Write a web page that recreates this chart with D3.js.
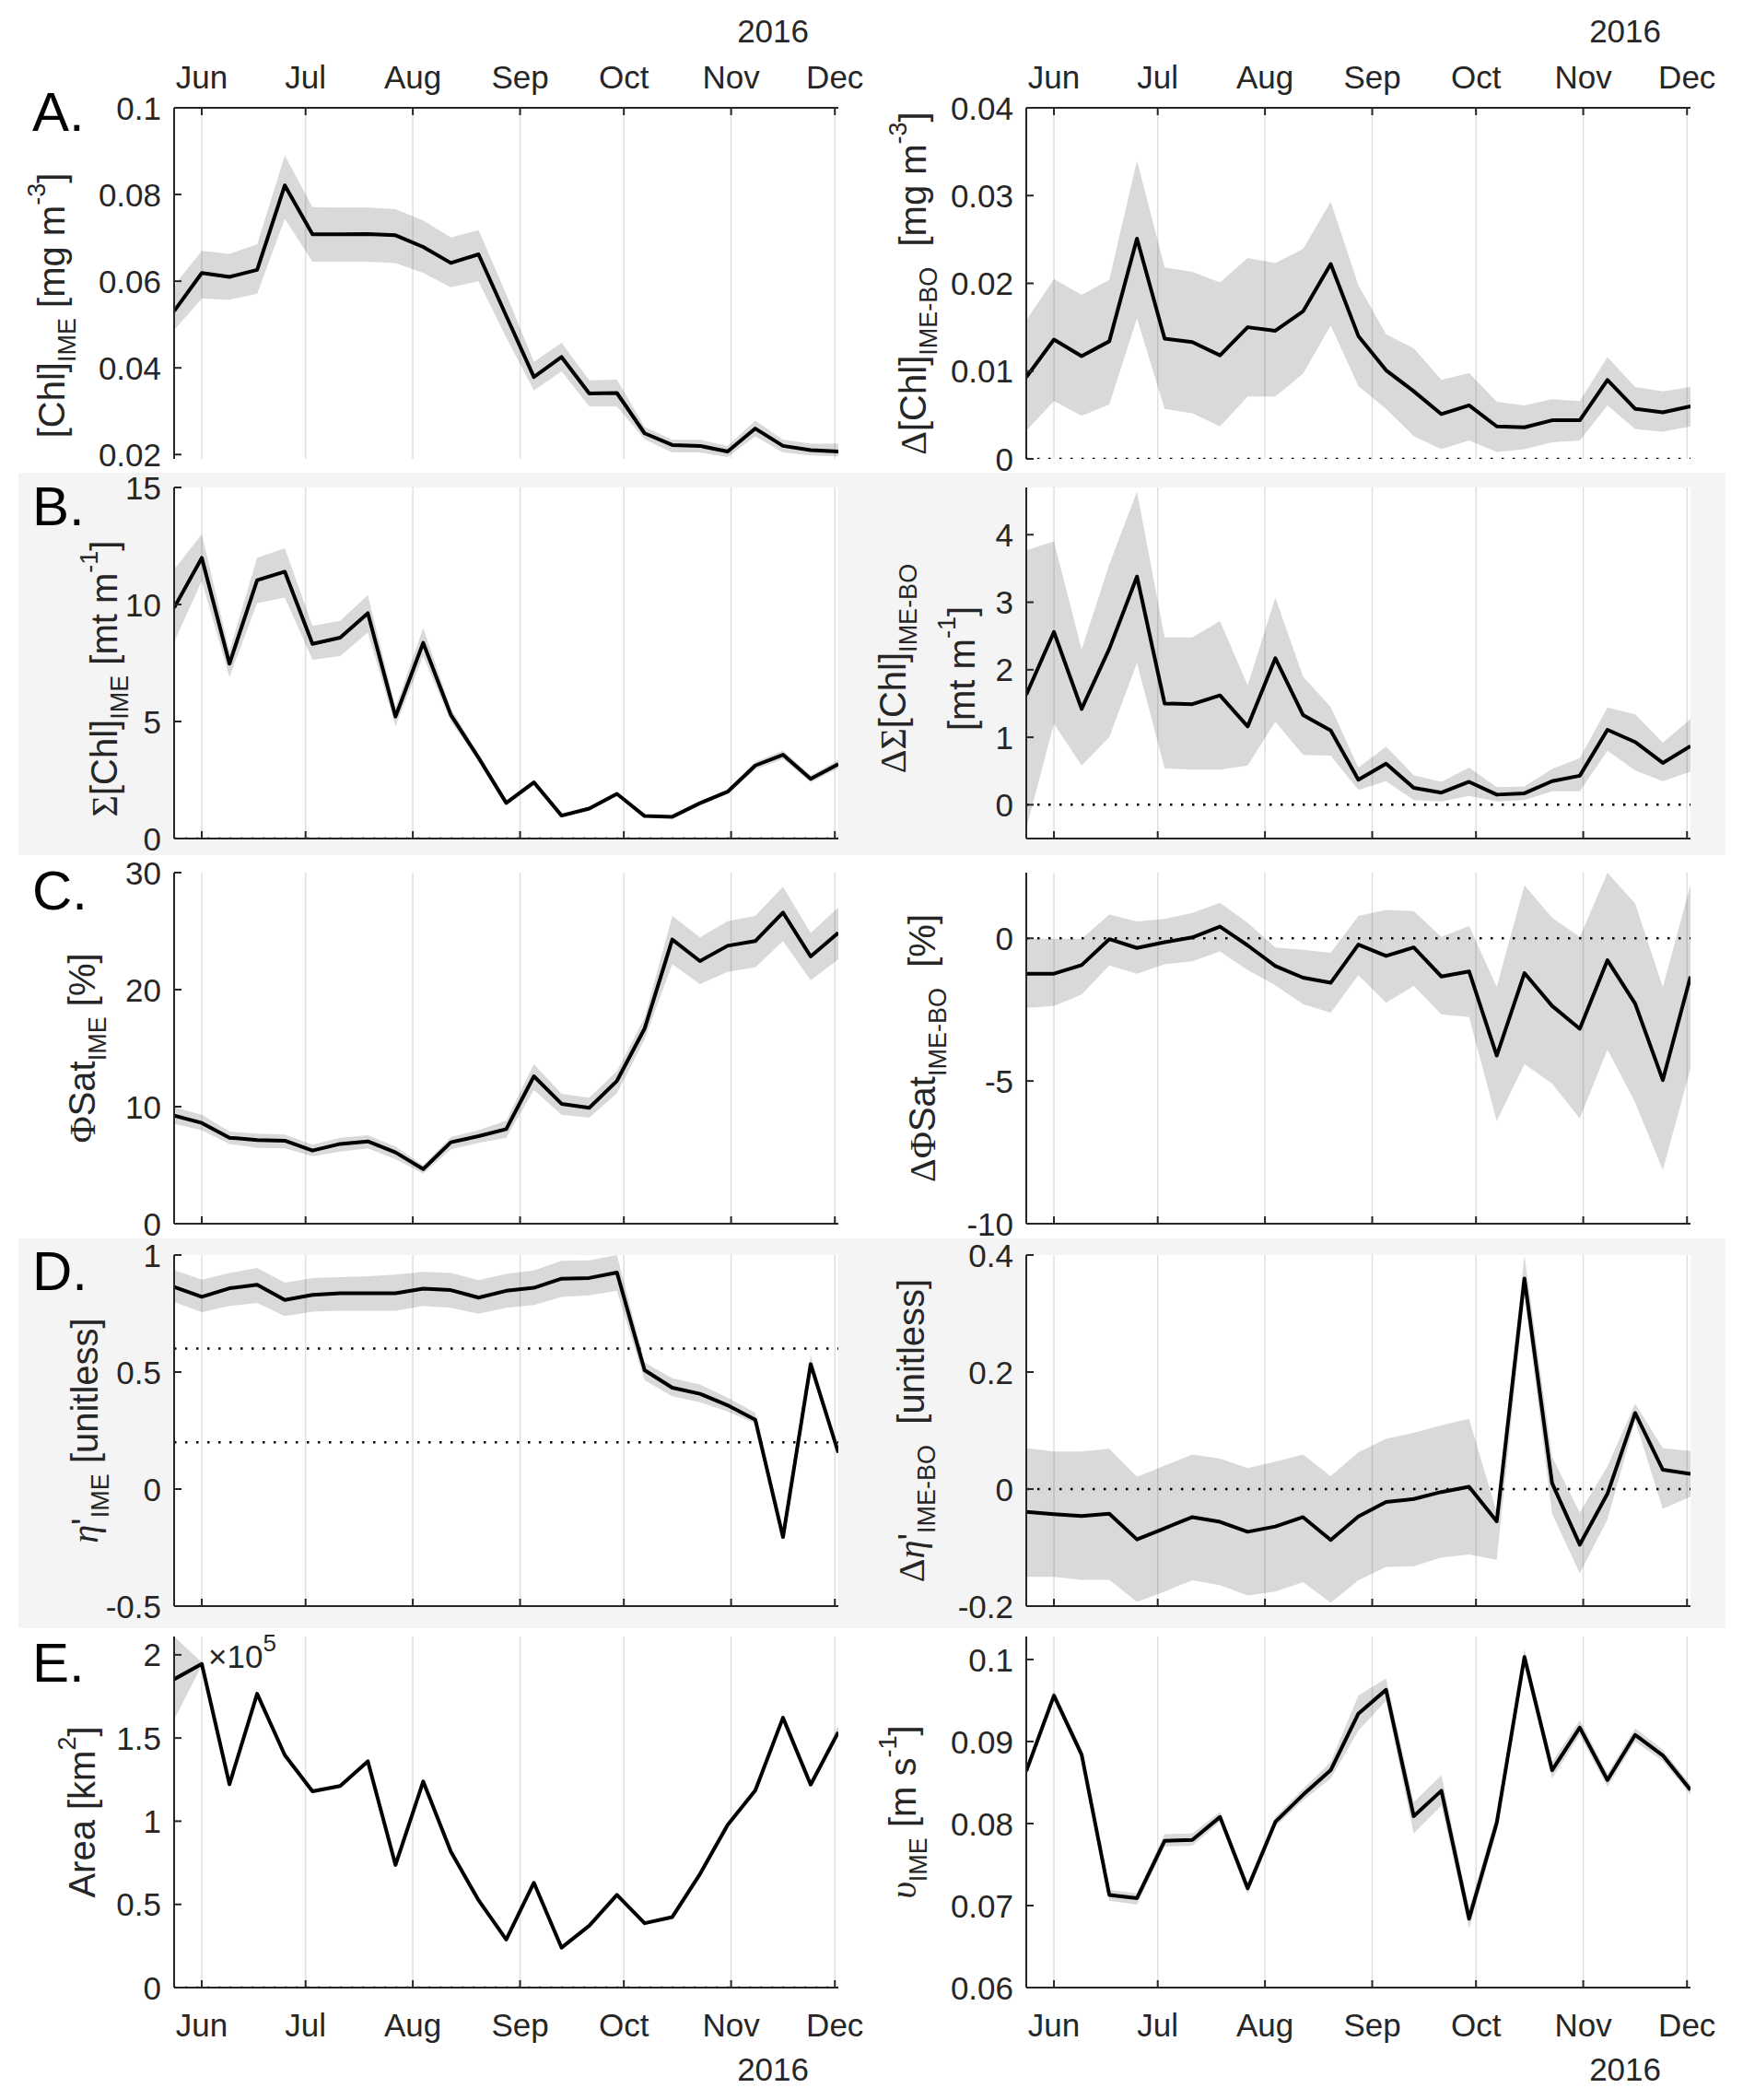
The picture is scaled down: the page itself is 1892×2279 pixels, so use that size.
<!DOCTYPE html>
<html>
<head>
<meta charset="utf-8">
<script src="https://cdnjs.cloudflare.com/ajax/libs/d3/7.8.5/d3.min.js"></script>
<style>
  body { margin: 0; background: #fff; }
  text { white-space: pre; }
</style>
</head>
<body>
<div id="chart"></div>
<script>
// 8-day composites, 2016
const dates = ["2016-05-24","2016-06-01","2016-06-09","2016-06-17","2016-06-25","2016-07-03","2016-07-11",
  "2016-07-19","2016-07-27","2016-08-04","2016-08-12","2016-08-20","2016-08-28","2016-09-05","2016-09-13",
  "2016-09-21","2016-09-29","2016-10-07","2016-10-15","2016-10-23","2016-10-31","2016-11-08","2016-11-16",
  "2016-11-24","2016-12-02"];
const monthTicks = ["2016-06-01","2016-07-01","2016-08-01","2016-09-01","2016-10-01","2016-11-01","2016-12-01"];
const yearLabel = "2016";

// A. [Chl]
const chlMean = [0.0531,0.0619,0.0610,0.0626,0.0821,0.0708,0.0708,0.0709,0.0706,0.0679,0.0642,0.0662,0.0520,0.0379,0.0425,0.0341,0.0342,0.0249,0.0222,0.0220,0.0207,0.0260,0.0220,0.0210,0.0207];
const chlLo   = [0.0487,0.0560,0.0557,0.0571,0.0744,0.0645,0.0645,0.0645,0.0642,0.0619,0.0586,0.0600,0.0470,0.0348,0.0392,0.0311,0.0311,0.0235,0.0205,0.0205,0.0194,0.0242,0.0205,0.0198,0.0196];
const chlHi   = [0.0590,0.0670,0.0663,0.0685,0.0890,0.0771,0.0770,0.0770,0.0766,0.0740,0.0701,0.0718,0.0570,0.0414,0.0458,0.0371,0.0373,0.0264,0.0234,0.0234,0.0220,0.0278,0.0234,0.0225,0.0225];
const dChlMean = [0.0093,0.0136,0.0117,0.0134,0.0251,0.0137,0.0133,0.0118,0.0150,0.0146,0.0168,0.0222,0.0140,0.0101,0.0077,0.0051,0.0061,0.0037,0.0036,0.0044,0.0044,0.0090,0.0057,0.0053,0.0060];
const dChlLo   = [0.0032,0.0066,0.0049,0.0062,0.0160,0.0057,0.0052,0.0037,0.0071,0.0071,0.0097,0.0152,0.0083,0.0057,0.0026,0.0011,0.0021,0.0008,0.0011,0.0019,0.0021,0.0061,0.0034,0.0031,0.0037];
const dChlHi   = [0.0158,0.0205,0.0187,0.0204,0.0340,0.0218,0.0213,0.0201,0.0229,0.0223,0.0239,0.0293,0.0198,0.0142,0.0126,0.0090,0.0098,0.0065,0.0061,0.0068,0.0066,0.0116,0.0082,0.0077,0.0082];

// B. integrated [Chl]
const sumMean = [9.86,11.99,7.47,11.04,11.40,8.32,8.58,9.63,5.21,8.36,5.28,3.45,1.52,2.40,0.98,1.28,1.91,0.96,0.93,1.51,2.00,3.12,3.58,2.55,3.18];
const sumLo   = [8.40,11.00,6.90,10.06,10.30,7.64,7.80,8.80,4.80,7.80,5.00,3.30,1.42,2.28,0.90,1.20,1.82,0.90,0.87,1.43,1.90,2.95,3.40,2.40,3.00];
const sumHi   = [11.50,13.00,8.00,12.00,12.40,9.08,9.30,10.40,5.60,9.00,5.55,3.60,1.62,2.52,1.06,1.36,2.00,1.02,0.99,1.59,2.10,3.28,3.76,2.70,3.36];
const dSumMean = [1.63,2.56,1.42,2.31,3.38,1.50,1.49,1.62,1.16,2.17,1.33,1.10,0.37,0.61,0.25,0.18,0.34,0.15,0.17,0.35,0.43,1.11,0.93,0.62,0.87];
const dSumLo   = [-0.35,1.20,0.58,1.00,2.10,0.54,0.52,0.52,0.58,1.23,0.74,0.73,0.22,0.35,0.07,0.05,0.13,0.05,0.07,0.20,0.20,0.80,0.51,0.35,0.49];
const dSumHi   = [3.77,3.90,2.30,3.56,4.64,2.48,2.48,2.72,1.77,3.07,1.90,1.45,0.55,0.86,0.44,0.34,0.55,0.26,0.27,0.53,0.69,1.44,1.34,0.92,1.27];

// C. saturation
const satMean = [9.24,8.61,7.35,7.14,7.09,6.25,6.82,7.03,6.09,4.67,6.96,7.48,8.08,12.60,10.24,9.90,12.20,16.67,24.28,22.44,23.75,24.15,26.59,22.83,24.86];
const satLo   = [8.53,8.00,6.82,6.48,6.43,5.77,6.17,6.43,5.51,4.28,6.35,6.90,7.35,11.42,9.32,9.06,11.15,15.75,22.18,20.47,21.52,21.90,24.15,20.81,22.57];
const satHi   = [9.97,9.32,7.87,7.69,7.61,6.75,7.35,7.56,6.59,4.99,7.40,8.00,8.79,13.65,11.10,10.76,13.04,17.59,26.30,24.46,25.85,26.30,28.80,24.85,27.03];
const dSatMean = [-1.24,-1.24,-0.94,-0.03,-0.34,-0.14,0.03,0.41,-0.25,-0.97,-1.38,-1.56,-0.22,-0.62,-0.32,-1.34,-1.16,-4.11,-1.22,-2.37,-3.17,-0.77,-2.29,-4.97,-1.34];
const dSatLo   = [-2.44,-2.37,-1.97,-0.95,-1.24,-0.91,-0.81,-0.46,-1.11,-1.65,-2.31,-2.61,-1.29,-2.26,-1.67,-2.66,-2.76,-6.40,-4.41,-5.09,-6.31,-3.90,-5.75,-8.12,-4.57];
const dSatHi   = [-0.02,-0.02,-0.02,0.83,0.59,0.68,0.89,1.24,0.54,-0.32,-0.40,-0.51,0.78,0.99,0.95,0.05,0.43,-1.70,1.86,0.72,0.05,2.29,1.22,-1.72,1.88];

// D. eta'
const etaMean = [0.864,0.821,0.858,0.873,0.808,0.830,0.837,0.837,0.837,0.856,0.850,0.818,0.847,0.860,0.899,0.902,0.925,0.508,0.433,0.407,0.358,0.296,-0.205,0.534,0.156];
const etaLo   = [0.799,0.756,0.782,0.795,0.739,0.758,0.762,0.762,0.762,0.782,0.775,0.749,0.775,0.786,0.821,0.828,0.847,0.465,0.397,0.371,0.332,0.280,-0.212,0.515,0.150];
const etaHi   = [0.936,0.895,0.923,0.945,0.882,0.902,0.906,0.909,0.916,0.928,0.923,0.893,0.919,0.934,0.975,0.977,1.000,0.541,0.473,0.447,0.391,0.326,-0.195,0.573,0.163];
const dEtaMean = [-0.039,-0.043,-0.046,-0.042,-0.086,-0.067,-0.048,-0.056,-0.073,-0.064,-0.048,-0.087,-0.047,-0.022,-0.017,-0.005,0.004,-0.055,0.360,0.010,-0.095,-0.008,0.130,0.033,0.026];
const dEtaLo   = [-0.150,-0.150,-0.155,-0.155,-0.193,-0.175,-0.156,-0.164,-0.182,-0.175,-0.159,-0.194,-0.156,-0.133,-0.132,-0.117,-0.112,-0.121,0.331,-0.042,-0.144,-0.052,0.117,-0.034,-0.013];
const dEtaHi   = [0.070,0.064,0.064,0.069,0.021,0.040,0.059,0.052,0.036,0.047,0.059,0.022,0.063,0.086,0.096,0.109,0.120,-0.040,0.399,0.055,-0.040,0.039,0.146,0.070,0.065];

// E. area (x10^5 km2) and speed
const areaMean = [1.853,1.945,1.222,1.766,1.397,1.180,1.211,1.360,0.737,1.239,0.817,0.525,0.289,0.630,0.240,0.372,0.557,0.387,0.424,0.682,0.977,1.185,1.622,1.220,1.535];
const areaLo   = [1.610,1.935,1.212,1.756,1.387,1.170,1.200,1.350,0.727,1.229,0.807,0.515,0.279,0.620,0.228,0.362,0.547,0.375,0.412,0.670,0.962,1.175,1.610,1.210,1.515];
const areaHi   = [2.110,1.955,1.232,1.776,1.407,1.190,1.222,1.370,0.747,1.249,0.827,0.535,0.299,0.640,0.250,0.382,0.567,0.397,0.434,0.692,0.990,1.195,1.640,1.230,1.575];
const velMean = [0.0864,0.0956,0.0884,0.0713,0.0709,0.0779,0.0780,0.0808,0.0721,0.0802,0.0835,0.0865,0.0934,0.0963,0.0809,0.0840,0.0684,0.0801,0.1003,0.0865,0.0917,0.0853,0.0908,0.0883,0.0841];
const velLo   = [0.0858,0.0950,0.0878,0.0706,0.0701,0.0772,0.0773,0.0802,0.0714,0.0796,0.0828,0.0855,0.0913,0.0950,0.0788,0.0822,0.0672,0.0790,0.0993,0.0855,0.0908,0.0845,0.0900,0.0876,0.0835];
const velHi   = [0.0870,0.0962,0.0890,0.0719,0.0715,0.0787,0.0788,0.0814,0.0728,0.0808,0.0842,0.0875,0.0956,0.0977,0.0826,0.0859,0.0696,0.0812,0.1013,0.0875,0.0926,0.0861,0.0916,0.0890,0.0847];

// tick values per panel
const chlTicks = [0.02,0.04,0.06,0.08,0.1];
const dChlTicks = [0,0.01,0.02,0.03,0.04];
const sumTicks = [0,5,10,15];
const dSumTicks = [0,1,2,3,4];
const satTicks = [0,10,20,30];
const dSatTicks = [-10,-5,0];
const etaTicks = [-0.5,0,0.5,1];
const dEtaTicks = [-0.2,0,0.2,0.4];
const areaTicks = [0,0.5,1,1.5,2];
const velTicks = [0.06,0.07,0.08,0.09,0.1];
const etaRefs = [0.6, 0.2];

const W = 1892, H = 2279;
const SANS = "'Liberation Sans', Arial, Helvetica, sans-serif";
const SERIF = "'Liberation Serif', 'Times New Roman', serif";
const INK = "#262626";
const colX = [[189, 910], [1114, 1835]];
const rowTop = [117, 529, 947, 1362, 1776];
const panelH = 381;
const letters = ["A.", "B.", "C.", "D.", "E."];
const letterBase = [142, 570, 987, 1400, 1825];

const parse = d3.timeParse("%Y-%m-%d");
const days = dates.map(parse);
const months = monthTicks.map(parse);
const fmt = d => String(+d.toFixed(6));

// label segments: [text, kind]  n=normal, g=greek, gi=greek italic, sub, sup
const panels = [
  {row:0, col:0, m:chlMean, lo:chlLo, hi:chlHi, dom:[0.019,0.1], ticks:chlTicks, refs:[], lx:70, ldy:24,
   label:[["[Chl]","n"],["IME","sub"],[" [mg m","n"],["-3","sup"],["]","n"]]},
  {row:0, col:1, m:dChlMean, lo:dChlLo, hi:dChlHi, dom:[0,0.04], ticks:dChlTicks, refs:[0], lx:1005, ldy:0,
   label:[["Δ","g"],["[Chl]","n"],["IME-BO","sub"],["  [mg m","n"],["-3","sup"],["]","n"]]},
  {row:1, col:0, m:sumMean, lo:sumLo, hi:sumHi, dom:[0,15], ticks:sumTicks, refs:[0], lx:127, ldy:17,
   label:[["Σ","g"],["[Chl]","n"],["IME","sub"],[" [mt m","n"],["-1","sup"],["]","n"]]},
  {row:1, col:1, m:dSumMean, lo:dSumLo, hi:dSumHi, dom:[-0.5,4.7], ticks:dSumTicks, refs:[0], lx:983, ldy:6,
   label:[["ΔΣ","g"],["[Chl]","n"],["IME-BO","sub"]],
   label2:[["[mt m","n"],["-1","sup"],["]","n"]], lx2:1058},
  {row:2, col:0, m:satMean, lo:satLo, hi:satHi, dom:[0,30], ticks:satTicks, refs:[], lx:103, ldy:0,
   label:[["Φ","g"],["Sat","n"],["IME","sub"],[" [%]","n"]]},
  {row:2, col:1, m:dSatMean, lo:dSatLo, hi:dSatHi, dom:[-10,2.3], ticks:dSatTicks, refs:[0], lx:1015, ldy:0,
   label:[["ΔΦ","g"],["Sat","n"],["IME-BO","sub"],["  [%]","n"]]},
  {row:3, col:0, m:etaMean, lo:etaLo, hi:etaHi, dom:[-0.5,1], ticks:etaTicks, refs:etaRefs, lx:106, ldy:0,
   label:[["η","gi"],["'","n"],["IME","sub"],[" [unitless]","n"]]},
  {row:3, col:1, m:dEtaMean, lo:dEtaLo, hi:dEtaHi, dom:[-0.2,0.4], ticks:dEtaTicks, refs:[0], lx:1003, ldy:0,
   label:[["Δ","g"],["η","gi"],["'","n"],["IME-BO","sub"],["  [unitless]","n"]]},
  {row:4, col:0, m:areaMean, lo:areaLo, hi:areaHi, dom:[0,2.11], ticks:areaTicks, refs:[0], lx:103, ldy:0,
   label:[["Area [km","n"],["2","sup"],["]","n"]]},
  {row:4, col:1, m:velMean, lo:velLo, hi:velHi, dom:[0.06,0.1028], ticks:velTicks, refs:[], lx:994, ldy:0,
   label:[["υ","gi"],["IME","sub"],[" [m s","n"],["-1","sup"],["]","n"]]}
];

const svg = d3.select("#chart").append("svg")
  .attr("width", W).attr("height", H)
  .attr("font-family", SANS);
svg.append("rect").attr("width", W).attr("height", H).attr("fill", "#fff");

// light grey bands behind rows B and D
[[513, 928], [1344, 1767]].forEach(b => {
  svg.append("rect").attr("x", 20).attr("y", b[0]).attr("width", 1853).attr("height", b[1] - b[0])
    .attr("fill", "#f4f4f4");
});

function richLabel(g, segs, x, y) {
  const t = g.append("text")
    .attr("transform", "translate(" + x + "," + y + ") rotate(-90)")
    .attr("text-anchor", "middle")
    .attr("font-size", 40)
    .attr("fill", INK);
  let shift = 0;
  segs.forEach(s => {
    const ts = t.append("tspan").text(s[0]);
    let target = 0;
    if (s[1] === "sub") { target = 12; ts.attr("font-size", 27); }
    if (s[1] === "sup") { target = -21; ts.attr("font-size", 27); }
    if (s[1] === "g") ts.attr("font-family", SERIF);
    if (s[1] === "gi") ts.attr("font-family", SERIF).attr("font-style", "italic");
    ts.attr("dy", target - shift);
    shift = target;
  });
}

panels.forEach((p, k) => {
  const x0 = colX[p.col][0], x1 = colX[p.col][1];
  const yTop = rowTop[p.row], yBot = yTop + panelH;
  const x = d3.scaleTime().domain([days[0], days[days.length - 1]]).range([x0, x1]);
  const y = d3.scaleLinear().domain(p.dom).range([yBot, yTop]);
  const g = svg.append("g");

  g.append("rect").attr("x", x0).attr("y", yTop).attr("width", x1 - x0).attr("height", panelH).attr("fill", "#fff");

  g.append("clipPath").attr("id", "clip" + k)
    .append("rect").attr("x", x0).attr("y", yTop).attr("width", x1 - x0).attr("height", panelH);
  const plot = g.append("g").attr("clip-path", "url(#clip" + k + ")");

  const band = d3.area()
    .x((d, i) => x(days[i]))
    .y0((d, i) => y(p.lo[i]))
    .y1((d, i) => y(p.hi[i]));
  plot.append("path").datum(p.m).attr("d", band).attr("fill", "#d9d9d9");

  // vertical grid at month starts
  plot.selectAll(".grid").data(months).enter().append("line")
    .attr("x1", d => x(d)).attr("x2", d => x(d))
    .attr("y1", yTop).attr("y2", yBot)
    .attr("stroke", INK).attr("stroke-opacity", 0.15).attr("stroke-width", 1.5);

  p.refs.forEach(r => {
    plot.append("line").attr("x1", x0).attr("x2", x1).attr("y1", y(r)).attr("y2", y(r))
      .attr("stroke", "#000").attr("stroke-width", 2.5).attr("stroke-dasharray", "2.5,9.5");
  });

  const line = d3.line().x((d, i) => x(days[i])).y(d => y(d));
  plot.append("path").datum(p.m).attr("d", line)
    .attr("fill", "none").attr("stroke", "#000").attr("stroke-width", 4)
    .attr("stroke-linejoin", "round");

  // y axis
  g.append("line").attr("x1", x0).attr("x2", x0).attr("y1", yTop).attr("y2", yBot)
    .attr("stroke", INK).attr("stroke-width", 2);
  p.ticks.forEach(t => {
    g.append("line").attr("x1", x0).attr("x2", x0 + 8).attr("y1", y(t)).attr("y2", y(t))
      .attr("stroke", INK).attr("stroke-width", 2);
    g.append("text").attr("x", x0 - 14).attr("y", y(t)).attr("dy", "0.36em")
      .attr("text-anchor", "end").attr("font-size", 35).attr("fill", INK).text(fmt(t));
  });

  // x axis: top for row A, bottom for the rest
  const top = p.row === 0;
  const ax = top ? yTop : yBot;
  g.append("line").attr("x1", x0).attr("x2", x1).attr("y1", ax).attr("y2", ax)
    .attr("stroke", INK).attr("stroke-width", 2);
  months.forEach(m => {
    g.append("line").attr("x1", x(m)).attr("x2", x(m))
      .attr("y1", ax).attr("y2", top ? ax + 8 : ax - 8)
      .attr("stroke", INK).attr("stroke-width", 2);
  });
  if (top || p.row === 4) {
    months.forEach(m => {
      g.append("text").attr("x", x(m)).attr("y", top ? 96 : 2210)
        .attr("text-anchor", "middle").attr("font-size", 35).attr("fill", INK)
        .text(d3.timeFormat("%b")(m));
    });
    g.append("text").attr("x", x1 - 32).attr("y", top ? 46 : 2258)
      .attr("text-anchor", "end").attr("font-size", 35).attr("fill", INK).text(yearLabel);
  }

  // y label
  const cy = (yTop + yBot) / 2 + p.ldy;
  richLabel(g, p.label, p.lx, cy);
  if (p.label2) richLabel(g, p.label2, p.lx2, cy);

  if (p.col === 0) {
    g.append("text").attr("x", 35).attr("y", letterBase[p.row])
      .attr("font-size", 60).attr("fill", "#000").text(letters[p.row]);
  }
});

// exponent for the area axis
const ex = svg.append("text").attr("x", 226).attr("y", 1810).attr("font-size", 35).attr("fill", INK);
ex.append("tspan").text("×10");
ex.append("tspan").attr("font-size", 26).attr("dy", -18).text("5");
</script>
</body>
</html>
